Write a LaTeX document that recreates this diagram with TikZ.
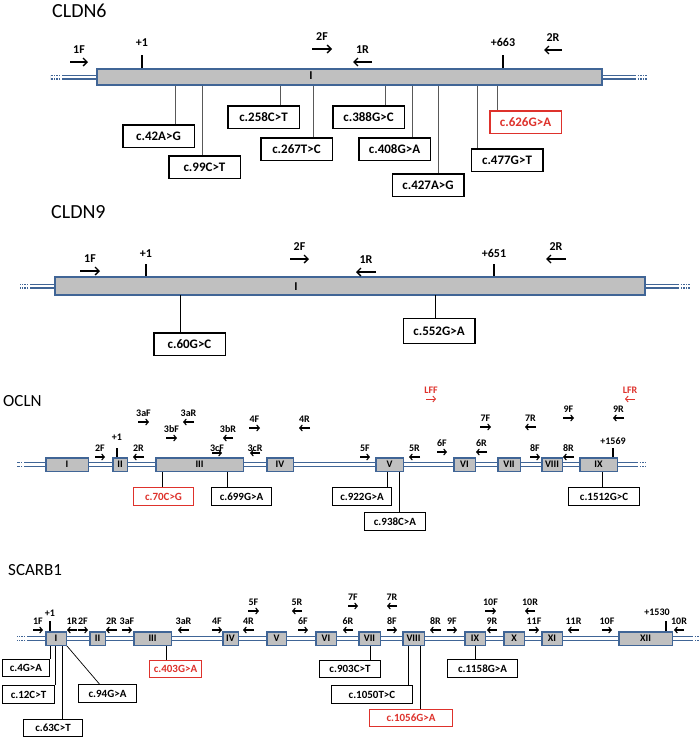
\documentclass[tikz,border=0pt]{standalone}
\usepackage{fontspec}
\setmainfont{Carlito}
\usetikzlibrary{arrows.meta, positioning}
\definecolor{exonblue}{RGB}{64,101,150}
\definecolor{exongray}{RGB}{192,192,192}
\definecolor{mutred}{RGB}{222,50,44}

\begin{document}
\begin{tikzpicture}[
   x=1pt, y=-1pt,
   title/.style = {anchor=west, inner sep=0pt, font=\fontsize{20}{24}\selectfont},
   gene/.style = {draw=exonblue, fill=exongray, line width=1.8pt, inner sep=0pt},
   exon/.style = {draw=exonblue, fill=exongray, line width=1.5pt, inner sep=0pt,
                  minimum height=13.5pt, text depth=-1.5pt, font=\bfseries\fontsize{10}{10}\selectfont},
   backbone/.style = {draw=exonblue, double=white, line width=1.2pt, double distance=2.6pt},
   dots/.style = {backbone, dash pattern=on 1.4pt off 1.2pt},
   tick/.style = {line width=2.6pt},
   fwd/.style = {-{Straight Barb[length=2.6pt, width=6pt]}, line width=1.1pt},
   bigfwd/.style = {-{Straight Barb[length=4pt, width=8pt]}, line width=1.4pt},
   plab/.style = {above=4.3pt, inner sep=1pt, font=\bfseries\fontsize{10}{10}\selectfont},
   biglab/.style = {above=6.5pt, inner sep=1pt, font=\bfseries\fontsize{12}{12}\selectfont},
   mut/.style = {draw, fill=white, line width=1.3pt, inner sep=0pt, minimum height=17.5pt,
                 font=\bfseries\fontsize{11}{11}\selectfont},
   bigmut/.style = {mut, line width=1.5pt, minimum width=71.5pt, minimum height=22.5pt,
                    font=\bfseries\fontsize{13}{13}\selectfont},
   hot/.style = {draw=mutred, text=mutred},
   cline/.style = {line width=0.7pt},
   grayline/.style = {cline, draw=black!65}]
   \useasboundingbox (0,0) rectangle (700,739);

   \node[title] (t6) at (52,11) {CLDN6};
   \draw[backbone] (63,77) coordinate (c6L) -- (635,77) coordinate (c6R);
   \draw[dots] (c6L) -- ++(-13,0);
   \draw[dots] (c6R) -- ++(12,0);
   \node[gene, minimum width=505, minimum height=16] (c6gene) at (349.5,77) {};
   \node[font=\bfseries\fontsize{12}{12}\selectfont] (c6ex) at (311,76) {I};
   \draw[tick] (142,68) -- (142,55) node[biglab] (c6p1) {+1};
   \draw[tick] (503,68) -- (503,55) node[biglab] (c6p663) {+663};
   \draw[bigfwd] (70,62) -- (88,62) node[biglab, midway] (c6f1) {1F};
   \draw[bigfwd] (312,49) -- (332,49) node[biglab, midway] (c6f2) {2F};
   \draw[bigfwd] (372,62) -- (353,62) node[biglab, midway] (c6r1) {1R};
   \draw[bigfwd] (562,50) -- (544,50) node[biglab, midway] (c6r2) {2R};

   \node[bigmut] (c6m42) at (158.5,136) {c.42A>G};
   \node[bigmut] (c6m99) at (204.5,167) {c.99C>T};
   \node[bigmut] (c6m258) at (263.5,117) {c.258C>T};
   \node[bigmut] (c6m267) at (296.5,149) {c.267T>C};
   \node[bigmut] (c6m388) at (368.5,117) {c.388G>C};
   \node[bigmut] (c6m408) at (394.5,149) {c.408G>A};
   \node[bigmut] (c6m427) at (428,185) {c.427A>G};
   \node[bigmut] (c6m477) at (507,160) {c.477G>T};
   \node[bigmut, hot] (c6m626) at (525.5,122) {c.626G>A};
   \draw[grayline] (175,86) coordinate (c6k42) -- (c6k42 |- c6m42.north);
   \draw[grayline] (202,86) coordinate (c6k99) -- (c6k99 |- c6m99.north);
   \draw[grayline] (280,86) coordinate (c6k258) -- (c6k258 |- c6m258.north);
   \draw[grayline] (313,86) coordinate (c6k267) -- (c6k267 |- c6m267.north);
   \draw[grayline] (385,86) coordinate (c6k388) -- (c6k388 |- c6m388.north);
   \draw[grayline] (412,86) coordinate (c6k408) -- (c6k408 |- c6m408.north);
   \draw[grayline] (438,86) coordinate (c6k427) -- (c6k427 |- c6m427.north);
   \draw[grayline] (477,86) coordinate (c6k477) -- (c6k477 |- c6m477.north);
   \draw[grayline] (497,86) coordinate (c6k626) -- (c6k626 |- c6m626.north);

   \node[title] (t9) at (51,212) {CLDN9};
   \draw[backbone] (31,286) coordinate (c9L) -- (678,286) coordinate (c9R);
   \draw[dots] (c9L) -- ++(-11,0);
   \draw[dots] (c9R) -- ++(12,0);
   \node[gene, minimum width=590, minimum height=18] (c9gene) at (350,286) {};
   \node[font=\bfseries\fontsize{12}{12}\selectfont] (c9ex) at (296,287) {I};
   \draw[tick] (146,276) -- (146,264) node[biglab, above=4pt] (c9p1) {+1};
   \draw[tick] (494,276) -- (494,264) node[biglab, above=4pt] (c9p651) {+651};
   \draw[bigfwd] (80,271) -- (100,271) node[biglab, midway] (c9f1) {1F};
   \draw[bigfwd] (290,259) -- (309,259) node[biglab, midway] (c9f2) {2F};
   \draw[bigfwd] (376,272) -- (356,272) node[biglab, midway] (c9r1) {1R};
   \draw[bigfwd] (566,259) -- (546,259) node[biglab, midway] (c9r2) {2R};
   \node[bigmut] (c9m60) at (189.5,344) {c.60G>C};
   \node[bigmut, minimum height=25] (c9m552) at (439,331) {c.552G>A};
   \draw[cline] (180,295) coordinate (c9k60) -- (c9k60 |- c9m60.north);
   \draw[cline] (435,295) coordinate (c9k552) -- (c9k552 |- c9m552.north);

   \node[title, font=\fontsize{17}{20}\selectfont] (tO) at (3,401) {OCLN};
   \draw[backbone] (25,464.5) coordinate (oL) -- (637,464.5) coordinate (oR);
   \draw[dots] (oL) -- ++(-8,0);
   \draw[dots] (oR) -- ++(8,0);
   \node[exon, minimum width=42.5] (oE1) at (67,464.5) {I};
   \node[exon, minimum width=14.5] (oE2) at (120,464.5) {II};
   \node[exon, minimum width=87.5] (oE3) at (199.5,464.5) {III};
   \node[exon, minimum width=26.5] (oE4) at (280,464.5) {IV};
   \node[exon, minimum width=27.5] (oE5) at (389.5,464.5) {V};
   \node[exon, minimum width=21.5] (oE6) at (464.5,464.5) {VI};
   \node[exon, minimum width=22.5] (oE7) at (509,464.5) {VII};
   \node[exon, minimum width=20.5] (oE8) at (552,464.5) {VIII};
   \node[exon, minimum width=37.5] (oE9) at (598.5,464.5) {IX};
   \draw[tick, line width=2pt] (117,457) -- (117,448) node[plab, above=5.5pt] (oP1) {+1};
   \draw[tick, line width=2pt] (613,457) -- (613,448) node[plab, above=1.5pt] (oP1569) {+1569};
   \draw[fwd] (95,457) -- (105,457) node[plab, midway] (oF2) {2F};
   \draw[fwd] (144,457) -- (133,457) node[plab, midway] (oR2) {2R};
   \draw[fwd] (138,422) -- (149,422) node[plab, midway] (oF3a) {3aF};
   \draw[fwd] (194,422) -- (183,422) node[plab, midway] (oR3a) {3aR};
   \draw[fwd] (166,438) -- (177,438) node[plab, midway] (oF3b) {3bF};
   \draw[fwd] (233,438) -- (223,438) node[plab, midway] (oR3b) {3bR};
   \draw[fwd] (212,453) -- (222,453) node[plab, midway, above=-0.5pt] (oF3c) {3cF};
   \draw[fwd] (260,453) -- (250,453) node[plab, midway, above=-0.5pt] (oR3c) {3cR};
   \draw[fwd] (249,428) -- (260,428) node[plab, midway] (oF4) {4F};
   \draw[fwd] (310,428) -- (299,428) node[plab, midway] (oR4) {4R};
   \draw[fwd] (360,457) -- (370,457) node[plab, midway] (oF5) {5F};
   \draw[fwd] (420,457) -- (409,457) node[plab, midway] (oR5) {5R};
   \draw[fwd] (437,452) -- (447,452) node[plab, midway] (oF6) {6F};
   \draw[fwd] (487,452) -- (476,452) node[plab, midway] (oR6) {6R};
   \draw[fwd] (480,427) -- (491,427) node[plab, midway] (oF7) {7F};
   \draw[fwd] (536,427) -- (525,427) node[plab, midway] (oR7) {7R};
   \draw[fwd] (530,457) -- (540,457) node[plab, midway] (oF8) {8F};
   \draw[fwd] (574,457) -- (563,457) node[plab, midway] (oR8) {8R};
   \draw[fwd] (563,418) -- (574,418) node[plab, midway] (oF9) {9F};
   \draw[fwd] (624,418) -- (613,418) node[plab, midway] (oR9) {9R};
   \draw[fwd, mutred, line width=0.9pt] (426,399) -- (436,399) node[plab, midway, text=mutred] (oLFF) {LFF};
   \draw[fwd, mutred, line width=0.9pt] (635,399) -- (625,399) node[plab, midway, text=mutred] (oLFR) {LFR};
   \node[mut, hot, minimum width=59.5] (oM70) at (163.5,496.5) {c.70C>G};
   \node[mut, minimum width=59.5] (oM699) at (241.5,496.5) {c.699G>A};
   \node[mut, minimum width=58.5] (oM922) at (362,496.5) {c.922G>A};
   \node[mut, minimum width=60.5] (oM938) at (395,521.5) {c.938C>A};
   \node[mut, minimum width=70.5] (oM1512) at (604,496.5) {c.1512G>C};
   \draw[cline] (162,472) coordinate (oK70) -- (oK70 |- oM70.north);
   \draw[cline] (227,472) coordinate (oK699) -- (oK699 |- oM699.north);
   \draw[cline] (387,472) coordinate (oK922) -- (oK922 |- oM922.north);
   \draw[cline] (399,472) coordinate (oK938) -- (oK938 |- oM938.north);
   \draw[cline] (602,472) coordinate (oK1512) -- (oK1512 |- oM1512.north);

   \node[title, font=\fontsize{17}{20}\selectfont] (tS) at (8,570) {SCARB1};
   \draw[backbone] (28,638.5) coordinate (sL) -- (692,638.5) coordinate (sR);
   \draw[dots] (sL) -- ++(-11,0);
   \draw[dots] (sR) -- ++(8,0);
   \node[exon, minimum width=20.5] (sE1) at (56,638.5) {I};
   \node[exon, minimum width=15.5] (sE2) at (97.5,638.5) {II};
   \node[exon, minimum width=37.5] (sE3) at (152.5,638.5) {III};
   \node[exon, minimum width=15.5] (sE4) at (230.5,638.5) {IV};
   \node[exon, minimum width=19.5] (sE5) at (276.5,638.5) {V};
   \node[exon, minimum width=20.5] (sE6) at (326,638.5) {VI};
   \node[exon, minimum width=21.5] (sE7) at (369.5,638.5) {VII};
   \node[exon, minimum width=21.5] (sE8) at (413.5,638.5) {VIII};
   \node[exon, minimum width=20.5] (sE9) at (475,638.5) {IX};
   \node[exon, minimum width=20.5] (sE10) at (514,638.5) {X};
   \node[exon, minimum width=20.5] (sE11) at (552,638.5) {XI};
   \node[exon, minimum width=53.5] (sE12) at (645.5,638.5) {XII};
   \draw[tick, line width=2pt] (50,631) -- (50,621) node[plab, above=3pt] (sP1) {+1};
   \draw[tick, line width=2pt] (666,631) -- (666,621) node[plab, above=3pt, xshift=-9pt] (sP1530) {+1530};
   \draw[fwd] (33,630) -- (43,630) node[plab, midway] (sF1) {1F};
   \draw[fwd] (77,630) -- (67,630) node[plab, midway] (sR1) {1R};
   \draw[fwd] (78,630) -- (88,630) node[plab, midway] (sF2) {2F};
   \draw[fwd] (117,630) -- (106,630) node[plab, midway] (sR2) {2R};
   \draw[fwd] (122,630) -- (132,630) node[plab, midway] (sF3a) {3aF};
   \draw[fwd] (189,630) -- (178,630) node[plab, midway] (sR3a) {3aR};
   \draw[fwd] (212,630) -- (222,630) node[plab, midway] (sF4) {4F};
   \draw[fwd] (254,630) -- (243,630) node[plab, midway] (sR4) {4R};
   \draw[fwd] (248,611) -- (259,611) node[plab, midway] (sF5) {5F};
   \draw[fwd] (302,611) -- (292,611) node[plab, midway] (sR5) {5R};
   \draw[fwd] (298,630) -- (308,630) node[plab, midway] (sF6) {6F};
   \draw[fwd] (353,630) -- (343,630) node[plab, midway] (sR6) {6R};
   \draw[fwd] (348,606) -- (358,606) node[plab, midway] (sF7) {7F};
   \draw[fwd] (397,606) -- (387,606) node[plab, midway] (sR7) {7R};
   \draw[fwd] (387,630) -- (397,630) node[plab, midway] (sF8) {8F};
   \draw[fwd] (441,630) -- (430,630) node[plab, midway] (sR8) {8R};
   \draw[fwd] (447,630) -- (457,630) node[plab, midway] (sF9) {9F};
   \draw[fwd] (497,630) -- (487,630) node[plab, midway] (sR9) {9R};
   \draw[fwd] (485,611) -- (496,611) node[plab, midway] (sF10a) {10F};
   \draw[fwd] (535,611) -- (525,611) node[plab, midway] (sR10a) {10R};
   \draw[fwd] (529,630) -- (539,630) node[plab, midway] (sF11) {11F};
   \draw[fwd] (579,630) -- (568,630) node[plab, midway] (sR11) {11R};
   \draw[fwd] (602,630) -- (612,630) node[plab, midway] (sF10b) {10F};
   \draw[fwd] (684,630) -- (674,630) node[plab, midway] (sR10b) {10R};
   \node[mut, minimum width=46.5] (s4) at (26,668) {c.4G>A};
   \node[mut, minimum width=51.5] (s12) at (28.5,694.5) {c.12C>T};
   \node[mut, minimum width=58.5] (s63) at (53,728) {c.63C>T};
   \node[mut, minimum width=57.5] (s94) at (107.5,693.5) {c.94G>A};
   \node[mut, hot, minimum width=51.5] (s403) at (175.5,669) {c.403G>A};
   \node[mut, minimum width=60.5] (s903) at (350,669) {c.903C>T};
   \node[mut, minimum width=80.5] (s1050) at (372,694.5) {c.1050T>C};
   \node[mut, hot, minimum width=82.5, minimum height=16.5] (s1056) at (411,718) {c.1056G>A};
   \node[mut, minimum width=69.5] (s1158) at (482.5,668.5) {c.1158G>A};
   \draw[cline] (s4.north east |- sE1.south) -- (s4.north east);
   \draw[cline] (s12.north east |- sE1.south) -- (s12.north east);
   \draw[cline] (62,646) coordinate (sK63) -- (sK63 |- s63.north);
   \draw[cline] (sE1.south east) -- ([xshift=-8pt]s94.north);
   \draw[cline] (166,646) coordinate (sK403) -- (sK403 |- s403.north);
   \draw[cline] (370,646) coordinate (sK903) -- (sK903 |- s903.north);
   \draw[cline] (408,646) coordinate (sK1050) -- (sK1050 |- s1050.north);
   \draw[cline] (420,646) coordinate (sK1056) -- (sK1056 |- s1056.north);
   \draw[cline] (475,646) coordinate (sK1158) -- (sK1158 |- s1158.north);
\end{tikzpicture}
\end{document}
